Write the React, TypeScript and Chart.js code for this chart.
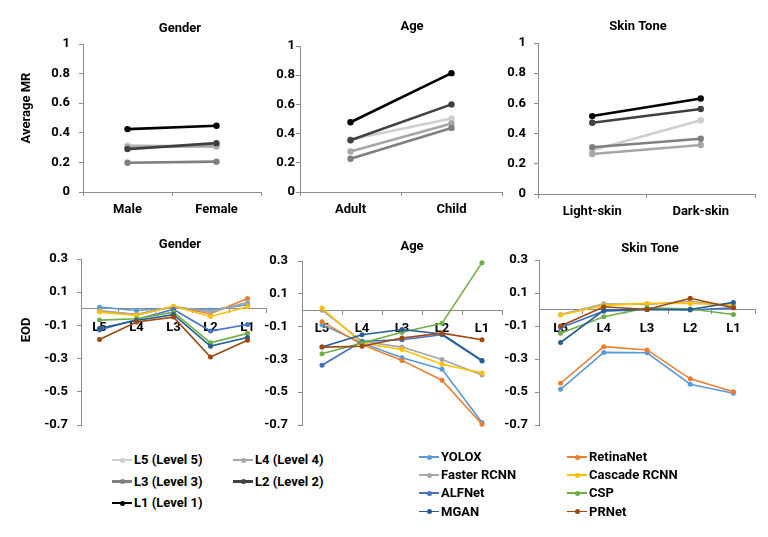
import React, { useEffect, useRef } from "react";
import { Chart, registerables } from "chart.js";

Chart.register(...registerables);

const FONT = "Roboto, 'Open Sans', 'DejaVu Sans', sans-serif";
const AXIS = "#8c8c8c";

// ---------- categories & tick labels ----------
const genderCats = ["Male", "Female"];
const ageCats = ["Adult", "Child"];
const skinCats = ["Light-skin", "Dark-skin"];
const levelCats = ["L5", "L4", "L3", "L2", "L1"];
const yTicksMR = [0, 0.2, 0.4, 0.6, 0.8, 1];
const yTicksEOD = [-0.7, -0.5, -0.3, -0.1, 0.1, 0.3];

// ---------- series names & colours ----------
const levelNames = ["L5 (Level 5)", "L4 (Level 4)", "L3 (Level 3)", "L2 (Level 2)", "L1 (Level 1)"];
const levelColors = ["#cfcfcf", "#a6a6a6", "#7f7f7f", "#404040", "#000000"];
const modelNames = ["YOLOX", "RetinaNet", "Faster RCNN", "Cascade RCNN", "ALFNet", "CSP", "MGAN", "PRNet"];
const modelColors = ["#5B9BD5", "#ED7D31", "#A5A5A5", "#FFC000", "#4472C4", "#70AD47", "#255E91", "#9E480E"];

// ---------- Average MR (rows: L5..L1) ----------
const mrGender = [
  [0.315, 0.305],
  [0.305, 0.31],
  [0.198, 0.205],
  [0.29, 0.33],
  [0.425, 0.448],
];
const mrAge = [
  [0.36, 0.503],
  [0.278, 0.469],
  [0.228, 0.439],
  [0.354, 0.6],
  [0.478, 0.814],
];
const mrSkin = [
  [0.29, 0.488],
  [0.265, 0.325],
  [0.31, 0.366],
  [0.472, 0.563],
  [0.516, 0.632],
];

// ---------- EOD (rows: models, cols: L5..L1) ----------
const eodGender = [
  [0.01, -0.01, 0.005, -0.007, 0.025],
  [-0.013, -0.035, 0.012, -0.03, 0.062],
  [-0.01, -0.035, 0.015, -0.02, 0.04],
  [-0.02, -0.04, 0.015, -0.046, 0.012],
  [-0.128, -0.065, -0.003, -0.134, -0.095],
  [-0.068, -0.06, -0.02, -0.205, -0.148],
  [-0.118, -0.07, -0.035, -0.225, -0.173],
  [-0.185, -0.08, -0.05, -0.29, -0.189],
];
const eodAge = [
  [-0.088, -0.2, -0.29, -0.36, -0.685],
  [-0.07, -0.21, -0.306, -0.427, -0.695],
  [0.0, -0.19, -0.225, -0.3, -0.395],
  [0.013, -0.2, -0.24, -0.33, -0.383],
  [-0.336, -0.19, -0.18, -0.15, -0.31],
  [-0.265, -0.2, -0.135, -0.08, 0.29],
  [-0.225, -0.15, -0.118, -0.145, -0.306],
  [-0.225, -0.22, -0.17, -0.14, -0.18],
];
const eodSkin = [
  [-0.484, -0.26, -0.262, -0.453, -0.508],
  [-0.447, -0.225, -0.245, -0.42, -0.498],
  [-0.03, 0.035, 0.03, 0.05, 0.02],
  [-0.033, 0.025, 0.037, 0.037, 0.027],
  [-0.11, -0.01, 0.0, -0.003, 0.01],
  [-0.144, -0.044, 0.01, 0.003, -0.03],
  [-0.2, -0.005, 0.0, 0.0, 0.043],
  [-0.1, 0.017, 0.0, 0.068, 0.011],
];

type Geo = { L: number; T: number; W: number; H: number; x0: number; x1: number; y0: number; y1: number };

interface PanelSpec {
  geo: Geo;
  title: string;
  titlePos: [number, number];
  yTitle?: string;
  yTitlePos?: [number, number];
  yPad: number;
  categories: string[];
  series: number[][];
  names: string[];
  colors: string[];
  kind: "mr" | "eod";
}

const LH = 13 * 1.2;

const placeTitles = {
  id: "placeTitles",
  afterLayout(chart: any, _args: any, opts: any) {
    const tb = chart.titleBlock;
    if (tb && opts && opts.title) {
      const [cx, cy] = opts.title;
      tb.left = cx - 100;
      tb.right = cx + 100;
      tb.width = 200;
      tb.top = cy - LH / 2;
      tb.bottom = cy + LH / 2;
    }
    if (opts && opts.sub) {
      const sb = chart.boxes.find(
        (b: any) => b !== tb && b.options && typeof b.options.text === "string" && b.options.position === "left"
      );
      if (sb) {
        const [cx, cy] = opts.sub;
        sb.left = cx - LH / 2;
        sb.right = cx + LH / 2;
        sb.width = LH;
        sb.top = cy - 80;
        sb.bottom = cy + 80;
        sb.height = 160;
      }
    }
  },
};

function buildConfig(p: PanelSpec): any {
  const g = p.geo;
  const isMR = p.kind === "mr";
  const hasYT = !!p.yTitle;
  const xh = isMR ? 24 : 0;
  const yw = g.x0 - g.L - (hasYT ? LH : 0);
  const font = { family: FONT, size: 13, weight: 700 };
  const datasets = p.series.map((vals, i) => ({
    label: p.names[i],
    data: vals,
    borderColor: p.colors[i],
    backgroundColor: p.colors[i],
    pointBackgroundColor: p.colors[i],
    pointBorderColor: p.colors[i],
    pointBorderWidth: 0,
    pointRadius: isMR ? 3.2 : 2.5,
    pointHoverRadius: isMR ? 3.2 : 2.5,
    borderWidth: isMR ? 2.6 : 1.6,
    tension: 0,
    fill: false,
    clip: false,
    order: p.series.length - i,
  }));
  const tickVals = isMR ? yTicksMR : yTicksEOD;
  return {
    type: "line",
    data: { labels: p.categories, datasets },
    plugins: [placeTitles],
    options: {
      responsive: false,
      animation: false,
      events: [],
      layout: {
        autoPadding: false,
        padding: {
          left: 0,
          right: g.L + g.W - g.x1,
          top: g.y0 - g.T - LH,
          bottom: g.T + g.H - g.y1 - xh,
        },
      },
      plugins: {
        legend: { display: false },
        tooltip: { enabled: false },
        title: {
          display: true,
          text: p.title,
          color: "#000",
          font,
          padding: 0,
        },
        subtitle: {
          display: hasYT,
          text: p.yTitle || "",
          position: "left",
          color: "#000",
          font,
          padding: 0,
        },
        placeTitles: {
          title: [p.titlePos[0] - g.L, p.titlePos[1] - g.T],
          sub: p.yTitlePos ? [p.yTitlePos[0] - g.L, p.yTitlePos[1] - g.T] : null,
        },
      },
      scales: {
        x: {
          type: "category",
          offset: true,
          position: isMR ? "bottom" : { y: 0 },
          grid: {
            display: true,
            drawOnChartArea: false,
            drawTicks: true,
            tickLength: 4,
            offset: true,
            color: AXIS,
          },
          border: { display: true, color: AXIS, width: 1 },
          ticks: {
            color: "#000",
            font,
            padding: isMR ? 6 : 7,
            maxRotation: 0,
            autoSkip: false,
          },
          afterFit: (s: any) => {
            s.height = xh;
            s.paddingLeft = 0;
            s.paddingRight = 0;
          },
        },
        y: {
          type: "linear",
          min: tickVals[0],
          max: tickVals[tickVals.length - 1],
          afterBuildTicks: (s: any) => {
            s.ticks = tickVals.map((v) => ({ value: v }));
          },
          grid: {
            display: true,
            drawOnChartArea: false,
            drawTicks: true,
            tickLength: 4,
            color: AXIS,
          },
          border: { display: true, color: AXIS, width: 1 },
          ticks: {
            color: "#000",
            font,
            padding: p.yPad,
            callback: (v: any) => String(Math.round(Number(v) * 10) / 10),
          },
          afterFit: (s: any) => {
            s.width = yw;
            s.paddingTop = 0;
            s.paddingBottom = 0;
          },
        },
      },
    },
  };
}

const panels: PanelSpec[] = [
  {
    geo: { L: 0, T: 0, W: 268, H: 230, x0: 83, x1: 261, y0: 44, y1: 192 },
    title: "Gender", titlePos: [180, 29], yTitle: "Average MR", yTitlePos: [27, 108], yPad: 9,
    categories: genderCats, series: mrGender, names: levelNames, colors: levelColors, kind: "mr",
  },
  {
    geo: { L: 250, T: 0, W: 268, H: 230, x0: 300, x1: 502, y0: 46, y1: 192 },
    title: "Age", titlePos: [412, 27], yPad: 1,
    categories: ageCats, series: mrAge, names: levelNames, colors: levelColors, kind: "mr",
  },
  {
    geo: { L: 500, T: 0, W: 268, H: 230, x0: 538, x1: 755, y0: 43, y1: 194 },
    title: "Skin Tone", titlePos: [638, 27], yPad: 8,
    categories: skinCats, series: mrSkin, names: levelNames, colors: levelColors, kind: "mr",
  },
  {
    geo: { L: 0, T: 230, W: 268, H: 210, x0: 81, x1: 266, y0: 259, y1: 425 },
    title: "Gender", titlePos: [180, 245], yTitle: "EOD", yTitlePos: [27, 330], yPad: 9,
    categories: levelCats, series: eodGender, names: modelNames, colors: modelColors, kind: "eod",
  },
  {
    geo: { L: 250, T: 230, W: 268, H: 210, x0: 302, x1: 502, y0: 261, y1: 425 },
    title: "Age", titlePos: [412, 247], yPad: 10,
    categories: levelCats, series: eodAge, names: modelNames, colors: modelColors, kind: "eod",
  },
  {
    geo: { L: 500, T: 230, W: 268, H: 210, x0: 539, x1: 755, y0: 260, y1: 425 },
    title: "Skin Tone", titlePos: [650, 249], yPad: 7,
    categories: levelCats, series: eodSkin, names: modelNames, colors: modelColors, kind: "eod",
  },
];

function Panel({ spec }: { spec: PanelSpec }) {
  const ref = useRef<HTMLCanvasElement | null>(null);
  useEffect(() => {
    if (!ref.current) return;
    const chart = new Chart(ref.current, buildConfig(spec));
    return () => chart.destroy();
  }, [spec]);
  const g = spec.geo;
  return (
    <div style={{ position: "absolute", left: g.L, top: g.T, width: g.W, height: g.H }}>
      <canvas ref={ref} width={g.W} height={g.H} style={{ width: g.W, height: g.H, display: "block" }} />
    </div>
  );
}

function LegendItem({ x, y, color, label, thick, r }: { x: number; y: number; color: string; label: string; thick: number; r: number }) {
  return (
    <div style={{ position: "absolute", left: x, top: y - 10, height: 20, display: "flex", alignItems: "center" }}>
      <div style={{ position: "relative", width: 20, height: 20, flex: "none" }}>
        <div style={{ position: "absolute", left: 0, top: 10 - thick / 2, width: 20, height: thick, background: color }} />
        <div
          style={{
            position: "absolute", left: 10 - r, top: 10 - r, width: 2 * r, height: 2 * r,
            borderRadius: "50%", background: color,
          }}
        />
      </div>
      <span style={{ marginLeft: 2, fontFamily: FONT, fontWeight: 700, fontSize: 13, color: "#000", whiteSpace: "nowrap", lineHeight: "20px" }}>
        {label}
      </span>
    </div>
  );
}

const levelLegendCols = [112, 233];
const levelLegendRows = [460, 481.5, 503];
const modelLegendCols = [419, 567];
const modelLegendRows = [457, 475, 493, 511.5];

export default function App() {
  return (
    <div style={{ position: "absolute", left: 0, top: 0, width: 768, height: 537, background: "#fff", overflow: "hidden" }}>
      {panels.map((p, i) => (
        <Panel key={i} spec={p} />
      ))}
      {levelNames.map((n, i) => (
        <LegendItem
          key={n}
          x={levelLegendCols[i % 2]}
          y={levelLegendRows[Math.floor(i / 2)]}
          color={levelColors[i]}
          label={n}
          thick={2.5}
          r={2.5}
        />
      ))}
      {modelNames.map((n, i) => (
        <LegendItem
          key={n}
          x={modelLegendCols[i % 2]}
          y={modelLegendRows[Math.floor(i / 2)]}
          color={modelColors[i]}
          label={n}
          thick={1.6}
          r={2.5}
        />
      ))}
    </div>
  );
}
